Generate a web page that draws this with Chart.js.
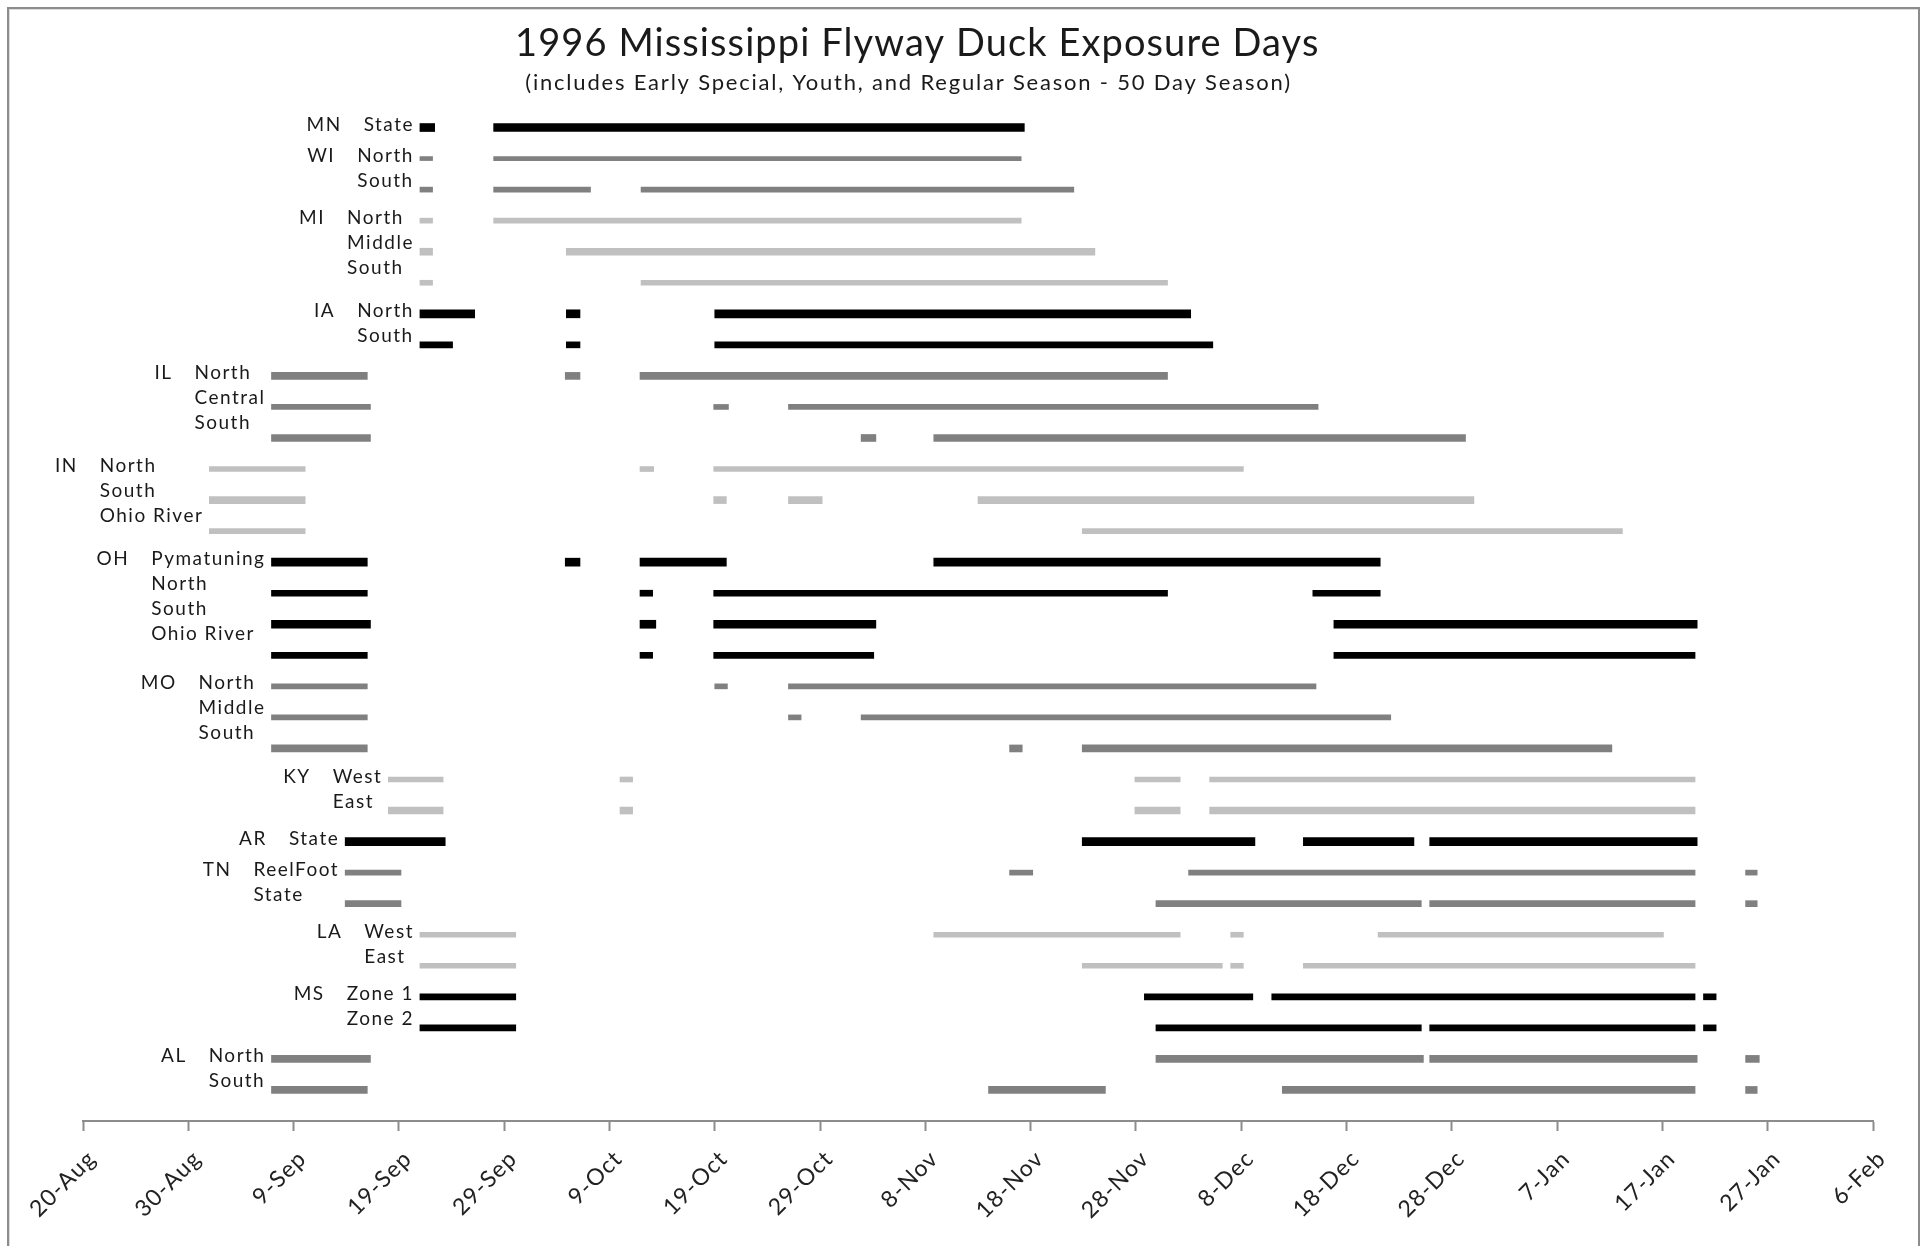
<!DOCTYPE html>
<html>
<head>
<meta charset="utf-8">
<title>1996 Mississippi Flyway Duck Exposure Days</title>
<script src="https://cdn.jsdelivr.net/npm/chart.js@4.4.1/dist/chart.umd.min.js"></script>
<style>
  html, body { margin: 0; padding: 0; background: #fff; overflow: hidden; }
  #wrap { position: relative; width: 1929px; height: 1246px; }
  #frame { position: absolute; left: 7px; top: 7px; width: 1913px; height: 1300px; box-sizing: border-box;
           border: 2px solid #8c8c8c; box-shadow: inset 1px 1px 0 #dcdcdc; }
  canvas { position: absolute; left: 0; top: 0; }
</style>
</head>
<body>
<div id="wrap">
  <div id="frame"></div>
  <canvas id="flywayChart" width="1929" height="1246"></canvas>
</div>
<script>
// days counted from 20-Aug-1996 (0) ... 6-Feb-1997 (170)
var tickLabels = ['20-Aug', '30-Aug', '9-Sep', '19-Sep', '29-Sep', '9-Oct', '19-Oct', '29-Oct', '8-Nov',
    '18-Nov', '28-Nov', '8-Dec', '18-Dec', '28-Dec', '7-Jan', '17-Jan', '27-Jan', '6-Feb'];

var chartTitle = '1996 Mississippi Flyway Duck Exposure Days';
var chartSubtitle = '(includes Early Special, Youth, and Regular Season - 50 Day Season)';

var states = ['MN', 'WI', 'MI', 'IA', 'IL', 'IN', 'OH', 'MO', 'KY', 'AR', 'TN', 'LA', 'MS', 'AL'];
var zones = [
    ['State'], ['North', 'South'], ['North', 'Middle', 'South'], ['North', 'South'],
    ['North', 'Central', 'South'], ['North', 'South', 'Ohio River'], ['Pymatuning', 'North', 'South', 'Ohio River'],
    ['North', 'Middle', 'South'], ['West', 'East'], ['State'], ['ReelFoot', 'State'], ['West', 'East'],
    ['Zone 1', 'Zone 2'], ['North', 'South']
];

// open periods [first day, last day] for every zone
var MN = [
    [[32.0, 33.4], [39.0, 89.4]]
];
var WI = [
    [[32.0, 33.2], [39.0, 89.1]],
    [[32.0, 33.2], [39.0, 48.2], [53.0, 94.1]]
];
var MI = [
    [[32.0, 33.2], [39.0, 89.1]],
    [[32.0, 33.2], [45.9, 96.1]],
    [[32.0, 33.2], [53.0, 103.0]]
];
var IA = [
    [[32.0, 37.2], [45.9, 47.2], [60.0, 105.2]],
    [[32.0, 35.1], [45.9, 47.2], [60.0, 107.3]]
];
var IL = [
    [[17.9, 27.0], [45.8, 47.2], [52.9, 103.0]],
    [[17.9, 27.3], [59.9, 61.3], [67.0, 117.3]],
    [[17.9, 27.3], [73.9, 75.3], [80.8, 131.3]]
];
var IN = [
    [[12.0, 21.1], [52.9, 54.2], [59.9, 110.2]],
    [[12.0, 21.1], [59.9, 61.1], [67.0, 70.2], [85.0, 132.1]],
    [[12.0, 21.1], [94.9, 146.2]]
];
var OH = [
    [[17.9, 27.0], [45.8, 47.2], [52.9, 61.1], [80.8, 123.2]],
    [[17.9, 27.0], [52.9, 54.1], [59.9, 103.0], [116.8, 123.2]],
    [[17.9, 27.3], [52.9, 54.4], [59.9, 75.3], [118.8, 153.3]],
    [[17.9, 27.0], [52.9, 54.1], [59.9, 75.1], [118.8, 153.1]]
];
var MO = [
    [[17.9, 27.0], [60.0, 61.2], [67.0, 117.1]],
    [[17.9, 27.0], [67.0, 68.2], [73.9, 124.2]],
    [[17.9, 27.0], [88.0, 89.2], [94.9, 145.2]]
];
var KY = [
    [[29.0, 34.2], [51.0, 52.2], [99.9, 104.2], [107.0, 153.1]],
    [[29.0, 34.2], [51.0, 52.2], [99.9, 104.2], [107.0, 153.1]]
];
var AR = [
    [[24.9, 34.4], [94.9, 111.3], [115.9, 126.4], [127.9, 153.3]]
];
var TN = [
    [[24.9, 30.2], [88.0, 90.2], [105.0, 153.1], [157.9, 159.0]],
    [[24.9, 30.2], [101.9, 127.1], [127.9, 153.1], [157.9, 159.0]]
];
var LA = [
    [[32.0, 41.1], [80.8, 104.2], [109.0, 110.2], [123.0, 150.1]],
    [[32.0, 41.1], [94.9, 108.2], [109.0, 110.2], [115.9, 153.1]]
];
var MS = [
    [[32.0, 41.1], [100.8, 111.1], [112.9, 153.1], [153.9, 155.1]],
    [[32.0, 41.1], [101.9, 127.1], [127.9, 153.1], [153.9, 155.1]]
];
var AL = [
    [[17.9, 27.3], [101.9, 127.3], [127.9, 153.3], [157.9, 159.2]],
    [[17.9, 27.0], [86.0, 97.1], [113.9, 153.1], [157.9, 159.0]]
];
var seasons = [MN, WI, MI, IA, IL, IN, OH, MO, KY, AR, TN, LA, MS, AL];

// look of the bars
var shade = ['#000000', '#808080', '#c0c0c0', '#000000', '#808080', '#c0c0c0', '#000000',
    '#808080', '#c0c0c0', '#000000', '#808080', '#c0c0c0', '#000000', '#808080'];
var thickness = [[8], [4, 5], [5, 7, 5], [8, 6], [7, 5, 7], [5, 7, 5], [8, 6, 8, 6], [5, 5, 7],
    [5, 7], [8], [5, 6], [5, 5], [6, 6], [7, 7]];

//-------------
//- DATASETS (one per zone row) -
//-------------
var datasets = [];
var row = 0;
states.forEach(function (st, s) {
    seasons[s].forEach(function (segs, k) {
        datasets.push({
            label: st + ' ' + zones[s][k],
            data: segs.map(function (seg) { return { x: seg, y: row }; }),
            backgroundColor: shade[s],
            barThickness: thickness[s][k],
            borderWidth: 0,
            grouped: false
        });
        row++;
    });
});
var rowCount = row;

//-------------
//- TITLE + ZONE LABELS -
//-------------
var flywayLabels = {
    id: 'flywayLabels',
    beforeDraw: function (chart) {
        chart.ctx.letterSpacing = '1.2px'; // the original text is spaced out a little
    },
    afterDatasetsDraw: function (chart) {
        var ctx = chart.ctx, xs = chart.scales.x, ys = chart.scales.y;
        ctx.save();
        ctx.fillStyle = '#1a1a1a';
        ctx.textBaseline = 'middle';

        ctx.textAlign = 'center';
        ctx.letterSpacing = '1.1px';
        ctx.font = '38px Lato';
        ctx.fillText(chartTitle, chart.width * 0.4755, 44);
        ctx.letterSpacing = '1.8px';
        ctx.font = '22px Lato';
        ctx.fillText(chartSubtitle, chart.width * 0.471, 83);

        ctx.letterSpacing = '1.5px';
        ctx.font = '19px Lato';
        var r = 0;
        states.forEach(function (st, s) {
            var start = Math.min.apply(null, seasons[s].map(function (segs) { return segs[0][0]; }));
            var widest = Math.max.apply(null, zones[s].map(function (z) { return ctx.measureText(z).width; }));
            var left = xs.getPixelForValue(start) - 6 - widest;
            var y0 = ys.getPixelForValue(r) - 3;
            ctx.textAlign = 'left';
            zones[s].forEach(function (z, k) {
                ctx.fillText(z, left, y0 + k * 25);
            });
            ctx.textAlign = 'right';
            ctx.fillText(st, left - 22, y0);
            r += zones[s].length;
        });
        ctx.restore();
    }
};

new Chart(document.getElementById('flywayChart').getContext('2d'), {
    type: 'bar',
    data: { datasets: datasets },
    options: {
        indexAxis: 'y',
        responsive: false,
        animation: false,
        layout: { padding: { left: 83, right: 56, top: 112, bottom: 0 } },
        plugins: { legend: { display: false }, tooltip: { enabled: false } },
        scales: {
            x: {
                type: 'linear',
                min: 0,
                max: 170,
                afterFit: function (scale) { scale.height = 125; },
                grid: { drawOnChartArea: false, drawTicks: true, tickLength: 10, tickColor: '#8c8c8c', tickWidth: 2 },
                border: { display: true, color: '#8c8c8c', width: 2 },
                ticks: {
                    stepSize: 10,
                    autoSkip: false,
                    minRotation: 45,
                    maxRotation: 45,
                    padding: 14,
                    labelOffset: 9,
                    color: '#222222',
                    font: { family: 'Lato', size: 23 },
                    callback: function (v) { return tickLabels[v / 10]; }
                }
            },
            y: {
                type: 'linear',
                reverse: true,
                offset: false,
                grid: { offset: false },
                min: -0.5,
                max: rowCount,
                display: false
            }
        }
    },
    plugins: [flywayLabels]
});
</script>
</body>
</html>
